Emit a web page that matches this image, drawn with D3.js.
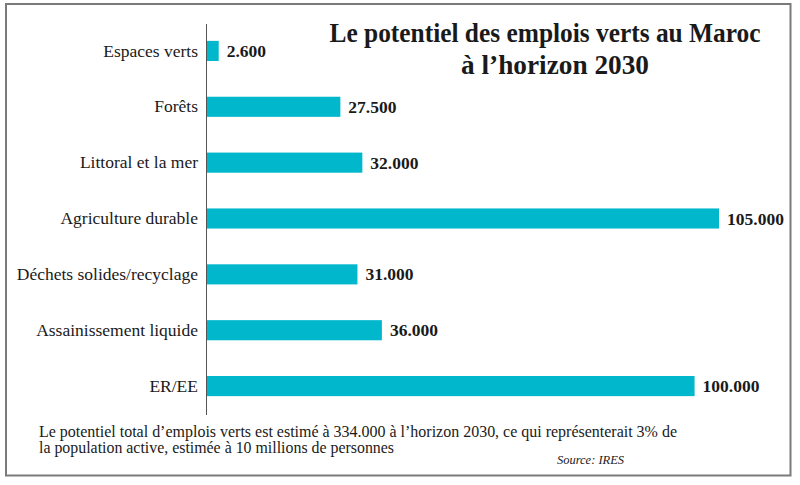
<!DOCTYPE html>
<html><head><meta charset="utf-8">
<script src="https://cdn.jsdelivr.net/npm/d3@7"></script>
<style>
html,body{margin:0;padding:0;background:#fff;}
svg{display:block;}
svg text{font-family:"Liberation Serif","Times New Roman",serif !important;}
</style></head>
<body>
<svg id="c" width="800" height="485"></svg>
<script>
const categories = ["Espaces verts","Forêts","Littoral et la mer","Agriculture durable","Déchets solides/recyclage","Assainissement liquide","ER/EE"];
const values = [2600, 27500, 32000, 105000, 31000, 36000, 100000];
const valueLabels = ["2.600","27.500","32.000","105.000","31.000","36.000","100.000"];
const titleLines = ["Le potentiel des emplois verts au Maroc","à l’horizon 2030"];
const noteLines = ["Le potentiel total d’emplois verts est estimé à 334.000 à l’horizon 2030, ce qui représenterait 3% de","la population active, estimée à 10 millions de personnes"];
const sourceText = "Source: IRES";

const svg = d3.select("#c");

// frame
svg.append("rect").attr("x",6).attr("y",4).attr("width",784.5).attr("height",471.5)
  .attr("fill","#fff").attr("stroke","#7a7a7a").attr("stroke-width",2);

const x = d3.scaleLinear().domain([0,105000]).range([206,719]);
const y = d3.scaleBand().domain(categories).range([23,414]).paddingInner(0.64).paddingOuter(0.32);

// bars
svg.append("g").selectAll("rect").data(categories).join("rect")
  .attr("x",x(0)).attr("y",d=>y(d))
  .attr("width",(d,i)=>x(values[i])-x(0))
  .attr("height",y.bandwidth())
  .attr("fill","#00b7cc");

// axis
const axis = d3.axisLeft(y).tickSize(0).tickPadding(8);
const ag = svg.append("g").attr("transform",`translate(${x(0)},0)`).call(axis);
ag.select(".domain").attr("stroke","#555").attr("stroke-width",1).attr("d","M0.5,24V415");
ag.selectAll("text").attr("font-size",17.5).attr("fill","#1a1a1a");

// value labels
svg.append("g").selectAll("text").data(categories).join("text")
  .attr("x",(d,i)=>x(values[i])+8)
  .attr("y",d=>y(d)+y.bandwidth()/2)
  .attr("dy","0.35em")
  .attr("font-weight","bold").attr("font-size",17.5)
  .attr("fill","#1a1a1a")
  .text((d,i)=>valueLabels[i]);

// title
svg.append("text").attr("x",545).attr("y",42).attr("text-anchor","middle")
  .attr("font-weight","bold").attr("font-size",27).attr("fill","#1a1a1a")
  .attr("textLength",431).attr("lengthAdjust","spacingAndGlyphs")
  .text(titleLines[0]);
svg.append("text").attr("x",555).attr("y",74).attr("text-anchor","middle")
  .attr("font-weight","bold").attr("font-size",27).attr("fill","#1a1a1a")
  .attr("textLength",188).attr("lengthAdjust","spacingAndGlyphs")
  .text(titleLines[1]);

// notes
svg.append("text").attr("x",39).attr("y",437)
  .attr("font-size",16).attr("fill","#1a1a1a")
  .attr("textLength",638).attr("lengthAdjust","spacingAndGlyphs")
  .text(noteLines[0]);
svg.append("text").attr("x",39).attr("y",452.5)
  .attr("font-size",16).attr("fill","#1a1a1a")
  .attr("textLength",355).attr("lengthAdjust","spacingAndGlyphs")
  .text(noteLines[1]);
svg.append("text").attr("x",557).attr("y",464)
  .attr("font-style","italic").attr("font-size",12.5).attr("fill","#1a1a1a")
  .attr("textLength",67).attr("lengthAdjust","spacingAndGlyphs")
  .text(sourceText);
</script>
</body></html>
